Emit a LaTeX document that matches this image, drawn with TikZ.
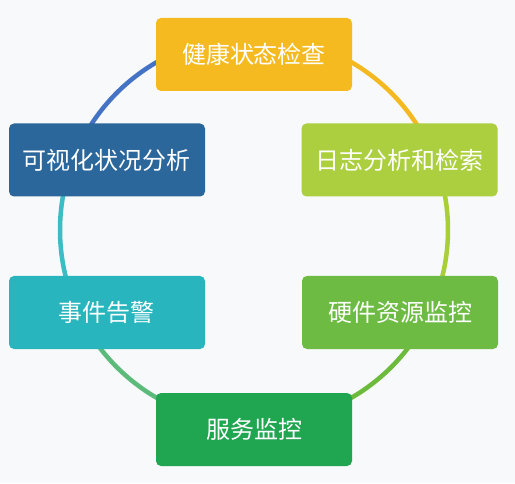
\documentclass[tikz,border=0pt]{standalone}
\usepackage{fontspec}
\newfontfamily\cjk{Noto Sans CJK SC}
\definecolor{bgc}{HTML}{F8F9FA}
\definecolor{cTop}{HTML}{F4BA1F}
\definecolor{cUL}{HTML}{2C679C}
\definecolor{cUR}{HTML}{ABCF3F}
\definecolor{cLL}{HTML}{29B5BE}
\definecolor{cLR}{HTML}{6EBB44}
\definecolor{cBot}{HTML}{20A551}
\definecolor{aBlue}{HTML}{4472C4}
\definecolor{aYellow}{HTML}{F4B821}
\definecolor{aLime}{HTML}{A8CF38}
\definecolor{aGreen}{HTML}{6CBB3C}
\definecolor{aMint}{HTML}{5CBB7A}
\definecolor{aTeal}{HTML}{3CBCC4}
\begin{document}
\begin{tikzpicture}[x=1pt,y=1pt,
  box/.style={rounded corners=5pt, minimum width=196pt, minimum height=73pt,
    text=white, font=\cjk\fontsize{24}{27}\selectfont, inner sep=0pt},
  ring/.style={line width=4.5pt}]
\fill[bgc] (0,0) rectangle (515,483);
\useasboundingbox (0,0) rectangle (515,483);
\coordinate (c) at (254,253);
\draw[ring, aBlue]   ([shift={(90:194)}]c)  arc[start angle=90,  end angle=155, radius=194];
\draw[ring, aTeal]   ([shift={(155:194)}]c) arc[start angle=155, end angle=210, radius=194];
\draw[ring, aMint]   ([shift={(210:194)}]c) arc[start angle=210, end angle=270, radius=194];
\draw[ring, aGreen]  ([shift={(270:194)}]c) arc[start angle=270, end angle=330, radius=194];
\draw[ring, aLime]   ([shift={(330:194)}]c) arc[start angle=330, end angle=385, radius=194];
\draw[ring, aYellow] ([shift={(25:194)}]c)  arc[start angle=25,  end angle=90,  radius=194];
\node[box, fill=cTop] (top) at (254,428.5) {健康状态检查};
\node[box, fill=cUL]  (ul)  at (107,323)   {可视化状况分析};
\node[box, fill=cUR]  (ur)  at (399.5,323) {日志分析和检索};
\node[box, fill=cLL]  (ll)  at (107,170.5) {事件告警};
\node[box, fill=cLR]  (lr)  at (400,170.5) {硬件资源监控};
\node[box, fill=cBot] (bot) at (254,53.5)  {服务监控};
\end{tikzpicture}
\end{document}
